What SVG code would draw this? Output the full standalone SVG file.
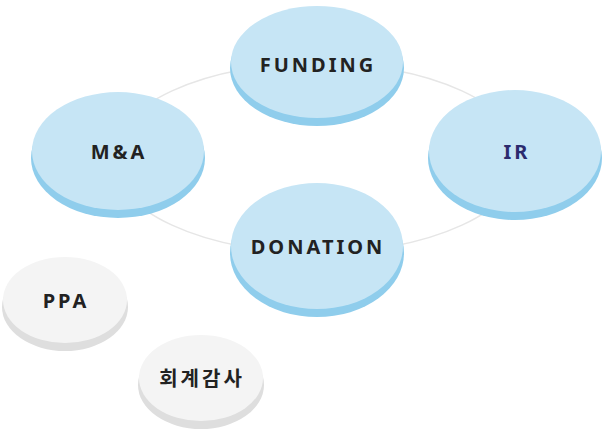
<svg xmlns="http://www.w3.org/2000/svg" width="602" height="434" viewBox="0 0 602 434">
<style>
.sh{fill:#8fcdec}.bl{fill:#c6e5f5}.gs{fill:#dedede}.gr{fill:#f4f4f4}
text{font-family:"Noto Sans","Noto Sans CJK KR",sans-serif;font-weight:bold;font-size:20px;fill:#222;text-anchor:middle;letter-spacing:3px}
</style>
<g id="connectors"><ellipse cx="317" cy="158" rx="205" ry="95" fill="none" stroke="#e6e6e6" stroke-width="1.5"/></g>
<g id="funding"><ellipse class="sh" cx="317" cy="68" rx="87" ry="58"/><ellipse class="bl" cx="317" cy="62" rx="86" ry="56"/><text x="318" y="72">FUNDING</text></g>
<g id="ma"><ellipse class="sh" cx="118" cy="158" rx="87" ry="60"/><ellipse class="bl" cx="118" cy="151" rx="86" ry="59"/><text x="119" y="159">M&amp;A</text></g>
<g id="ir"><ellipse class="sh" cx="515" cy="158" rx="87" ry="62"/><ellipse class="bl" cx="515" cy="151" rx="86" ry="61"/><text x="517" y="159" style="fill:#2b2b6e">IR</text></g>
<g id="donation"><ellipse class="sh" cx="317" cy="253" rx="87" ry="64"/><ellipse class="bl" cx="317" cy="246" rx="86" ry="63"/><text x="318" y="254">DONATION</text></g>
<g id="ppa"><ellipse class="gs" cx="65" cy="307" rx="63" ry="44"/><ellipse class="gr" cx="65" cy="300" rx="62" ry="43"/><text x="66" y="308">PPA</text></g>
<g id="audit"><ellipse class="gs" cx="201" cy="385" rx="63" ry="44"/><ellipse class="gr" cx="201" cy="378" rx="62" ry="43"/><text x="202" y="386">회계감사</text></g>
</svg>
